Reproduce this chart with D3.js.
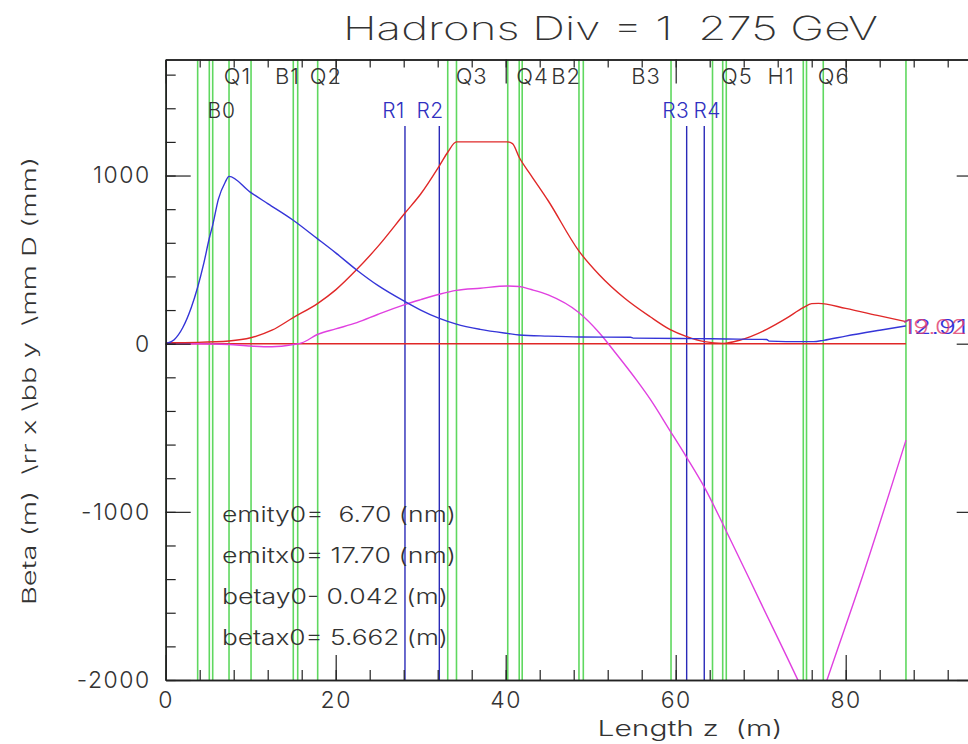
<!DOCTYPE html>
<html><head><meta charset="utf-8">
<script src="https://cdn.jsdelivr.net/npm/d3@7"></script>
<style>
html,body{margin:0;padding:0;background:#fff;}
svg text{font-family:Inter,"DejaVu Sans",sans-serif;font-weight:300;fill:#333;white-space:pre;}
</style></head>
<body><svg id="c" width="968" height="744"></svg>
<script>
// ---- data ----
const elementZ = [0, 3.76, 5.13, 5.53, 7.45, 10.04, 15.01, 15.53, 17.88, 33.18, 34.21, 40.24, 41.59, 41.94, 48.62, 49.13, 59.45, 64.33, 65.53, 65.95, 75.01, 75.39, 77.36, 87.09];
const rfZ = [28.15, 32.19, 61.29, 63.36];
const magnetNames = ["Q1", "B1", "Q2", "Q3", "Q4", "B2", "B3", "Q5", "H1", "Q6"];
const magnetLabelZ = [8.45, 14.33, 18.85, 36.0, 43.15, 47.1, 56.5, 67.2, 72.4, 78.6];
const lowerNames = ["B0"];
const lowerLabelZ = [6.6];
const rfNames = ["R1", "R2", "R3", "R4"];
const rfLabelZ = [26.8, 31.1, 60.0, 63.7];

const betaYz = [0, 1, 2, 3, 3.76, 4.5, 5.13, 5.53, 6.2, 7.0, 7.45, 9.9, 12, 15.0, 17.8, 20, 22.5, 25, 28.2, 30, 32.2, 34.2, 37, 40.2, 41.6, 45, 48.7, 54.7, 55.0, 62, 66, 70.7, 71.0, 75, 76.2, 77.4, 80, 84, 87.09];
const betaY  = [0, 24, 95, 214, 336, 482, 627, 705, 860, 960, 995, 903, 833, 734, 626, 540, 437, 345, 249, 200, 150, 116, 85, 61, 52, 45, 40, 38, 33, 30, 28, 25, 15, 12, 12, 20, 45, 80, 106];

const betaXz = [0, 3.76, 7.45, 10, 12.5, 15, 17.9, 20, 22.5, 25, 28.2, 30, 32.2, 33.2, 34.2, 40.2, 40.8, 41.6, 43, 45, 48.6, 51, 54, 57, 59.3, 61.3, 63.4, 65.6, 67.6, 70.7, 73, 75, 76, 76.8, 80, 84, 87.09];
const betaX  = [6, 8, 16, 35, 80, 155, 240, 320, 442, 580, 780, 890, 1058, 1140, 1200, 1200, 1190, 1107, 1000, 850, 552, 410, 270, 160, 85, 42, 12, 2, 22, 85, 150, 214, 238, 240, 210, 165, 131];

const dispZ = [0, 3.76, 7.45, 10, 12.5, 15, 16, 17.9, 20, 22.5, 25, 28.2, 30, 32.2, 34.2, 37, 40.2, 41.6, 43, 45, 48.6, 51, 53, 55.4, 57, 59.3, 61.3, 63.4, 66, 70, 74.4, 75.2, 76.3, 77.4, 77.8, 82, 87.09];
const dispD = [0, 0, -5, -14, -18, -5, 5, 56, 88, 125, 175, 234, 262, 294, 317, 330, 343, 340, 322, 290, 185, 65, -60, -217, -330, -515, -677, -856, -1120, -1540, -2003, -2090, -2190, -2060, -2000, -1380, -574];

const zeroZ = [0, 87.09];
const zeroV = [0, 0];

const yTickLabels = [-2000, -1000, 0, 1000];
const xTickLabels = [0, 20, 40, 60, 80];
const paramLines = ["emity0=  6.70 (nm)", "emitx0= 17.70 (nm)", "betay0- 0.042 (m)", "betax0= 5.662 (m)"];
const endLabels = ["12.91", "19.02"];
const titleText = "Hadrons Div = 1  275 GeV";

// ---- scales ----
const svg = d3.select("#c");
const x = d3.scaleLinear().domain([0, 96]).range([165.7, 981.7]);
const y = d3.scaleLinear().domain([-2000, 1690]).range([680, 59.5]);

svg.append("defs").append("clipPath").attr("id", "plot")
  .append("rect").attr("x", x(0)).attr("y", y(1690)).attr("width", x(96) - x(0)).attr("height", y(-2000) - y(1690));

const plot = svg.append("g").attr("clip-path", "url(#plot)");

plot.selectAll("line.el").data(elementZ).join("line")
  .attr("x1", d => x(d)).attr("x2", d => x(d))
  .attr("y1", y(1690)).attr("y2", y(-2000))
  .attr("stroke", "#5fd85f").attr("stroke-width", 1.6);

plot.selectAll("line.rf").data(rfZ).join("line")
  .attr("x1", d => x(d)).attr("x2", d => x(d))
  .attr("y1", 126).attr("y2", y(-2000))
  .attr("stroke", "#2a2ab8").attr("stroke-width", 1.4);

const line = d3.line().x(d => x(d[0])).y(d => y(d[1])).curve(d3.curveMonotoneX);
function series(zs, vs, color) {
  plot.append("path").datum(zs.map((z, i) => [z, vs[i]]))
    .attr("d", line).attr("fill", "none").attr("stroke", color).attr("stroke-width", 1.4);
}
series(zeroZ, zeroV, "#e02828");
series(dispZ, dispD, "#e040e0");
series(betaXz, betaX, "#e02828");
series(betaYz, betaY, "#3535d8");

// ---- axes ----
function styleAxis(g) {
  g.select(".domain").attr("stroke", "#222").attr("stroke-width", 1.5);
  g.selectAll(".tick line").attr("stroke", "#222").attr("stroke-width", 1.2);
  g.selectAll("text").attr("font-family", null).attr("font-size", 23).attr("fill", "#333").attr("letter-spacing", 1.5);
}
const minorY = d3.range(-2000, 1690, 200);
const minorX = d3.range(0, 97, 4);
const fmt = d => String(d);

svg.append("g").attr("transform", `translate(${x(0)},0)`)
  .call(d3.axisLeft(y).tickValues(minorY).tickSizeInner(-10).tickSizeOuter(0).tickFormat("")).call(styleAxis);
svg.append("g").attr("transform", `translate(${x(0)},0)`)
  .call(d3.axisLeft(y).tickValues(yTickLabels).tickSizeInner(-25).tickSizeOuter(0).tickPadding(15).tickFormat(fmt)).call(styleAxis);

svg.append("g").attr("transform", `translate(${x(96)},0)`)
  .call(d3.axisRight(y).tickValues(minorY).tickSizeInner(-10).tickSizeOuter(0).tickFormat("")).call(styleAxis);
svg.append("g").attr("transform", `translate(${x(96)},0)`)
  .call(d3.axisRight(y).tickValues(yTickLabels).tickSizeInner(-25).tickSizeOuter(0).tickFormat("")).call(styleAxis);

svg.append("g").attr("transform", `translate(0,${y(-2000)})`)
  .call(d3.axisBottom(x).tickValues(minorX).tickSizeInner(-10).tickSizeOuter(0).tickFormat("")).call(styleAxis);
svg.append("g").attr("transform", `translate(0,${y(-2000)})`)
  .call(d3.axisBottom(x).tickValues(xTickLabels).tickSizeInner(-25).tickSizeOuter(0).tickPadding(12).tickFormat(fmt)).call(styleAxis);

svg.append("g").attr("transform", `translate(0,${y(1690)})`)
  .call(d3.axisTop(x).tickValues(minorX).tickSizeInner(-8).tickSizeOuter(0).tickFormat("")).call(styleAxis);
svg.append("g").attr("transform", `translate(0,${y(1690)})`)
  .call(d3.axisTop(x).tickValues(xTickLabels).tickSizeInner(-24).tickSizeOuter(0).tickFormat("")).call(styleAxis);

// ---- labels ----
svg.append("text").attr("x", 343).attr("y", 40).attr("font-size", 33).style("font-weight", 200)
  .attr("textLength", 535).attr("lengthAdjust", "spacingAndGlyphs").text(titleText);

svg.append("text").attr("transform", "translate(36,381) rotate(-90)").attr("text-anchor", "middle")
  .attr("font-size", 19).attr("textLength", 448).attr("lengthAdjust", "spacingAndGlyphs")
  .text("Beta (m)  \\rr x \\bb y  \\mm D (mm)");

svg.append("text").attr("x", 690).attr("y", 736).attr("text-anchor", "middle")
  .attr("font-size", 22).attr("textLength", 185).attr("lengthAdjust", "spacingAndGlyphs")
  .text("Length z  (m)");

svg.selectAll("text.mag").data(magnetNames).join("text")
  .attr("x", (d, i) => x(magnetLabelZ[i])).attr("y", 84).attr("text-anchor", "middle")
  .attr("font-size", 22).attr("letter-spacing", 1).text(d => d);
svg.selectAll("text.low").data(lowerNames).join("text")
  .attr("x", (d, i) => x(lowerLabelZ[i])).attr("y", 118).attr("text-anchor", "middle")
  .attr("font-size", 21).attr("letter-spacing", 1).text(d => d);
svg.selectAll("text.rfl").data(rfNames).join("text")
  .attr("x", (d, i) => x(rfLabelZ[i])).attr("y", 118).attr("text-anchor", "middle")
  .attr("font-size", 21).attr("letter-spacing", 0.5).style("fill", "#3030c0").text(d => d);

const paramLen = [234, 234, 226, 226];
svg.selectAll("text.par").data(paramLines).join("text")
  .attr("x", 222).attr("y", (d, i) => 522 + i * 41)
  .attr("font-size", 21)
  .attr("textLength", (d, i) => paramLen[i]).attr("lengthAdjust", "spacingAndGlyphs")
  .text(d => d);

svg.append("text").attr("x", 903).attr("y", 334).attr("font-size", 20)
  .attr("textLength", 64).attr("lengthAdjust", "spacingAndGlyphs").style("fill", "#3535d8").text(endLabels[0]);
svg.append("text").attr("x", 903).attr("y", 334).attr("font-size", 20)
  .attr("textLength", 64).attr("lengthAdjust", "spacingAndGlyphs").style("fill", "#e03a6a").style("opacity", 0.8).text(endLabels[1]);
</script></body></html>
